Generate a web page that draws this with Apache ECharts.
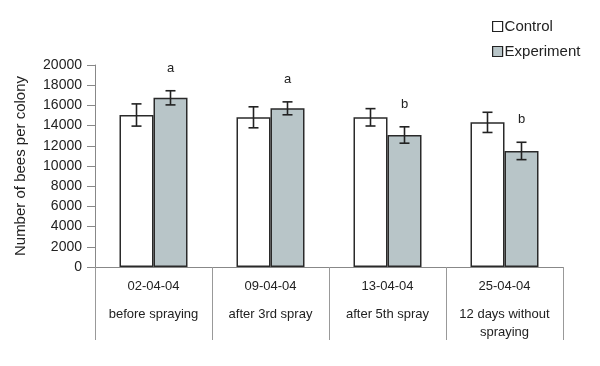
<!DOCTYPE html>
<html><head><meta charset="utf-8">
<script src="https://cdn.jsdelivr.net/npm/echarts@6/dist/echarts.min.js"></script>
<style>html,body{margin:0;padding:0;background:#fff}#c{width:600px;height:366px}</style>
</head><body><div id="c"></div>
<script>
var dates = ['02-04-04', '09-04-04', '13-04-04', '25-04-04'];
var phases = ['before spraying', 'after 3rd spray', 'after 5th spray', '12 days without\nspraying'];
var controlMean = [15050, 14820, 14820, 14320];
var controlErr = [1100, 1040, 860, 1000];
var experimentMean = [16750, 15710, 13070, 11490];
var experimentErr = [700, 640, 810, 860];
var sigLetters = ['a', 'a', 'b', 'b'];
var yTicks = [0, 2000, 4000, 6000, 8000, 10000, 12000, 14000, 16000, 18000, 20000];

var cats = dates.map(function (d, i) {
  var lines = phases[i].split('\n').map(function (l) { return '{s|' + l + '}'; });
  return '{d|' + d + '}\n' + lines.join('\n');
});

var FONT = 'Liberation Sans, Arial, sans-serif';
var chart = echarts.init(document.getElementById('c'), null, {renderer: 'canvas'});

function errSeries(name, means, errs, offsetSign, withLetters) {
  return {
    type: 'custom', name: name + ' err', silent: true, z: 5,
    data: means.map(function (m, i) { return [i, m - errs[i], m + errs[i]]; }),
    renderItem: function (params, api) {
      var bw = 34;
      var lo = api.coord([api.value(0), api.value(1)]);
      var hi = api.coord([api.value(0), api.value(2)]);
      var x = lo[0] + offsetSign * bw / 2;
      var cap = 5;
      var style = {stroke: '#222', lineWidth: 1.6};
      var children = [
        {type: 'line', shape: {x1: x, y1: lo[1], x2: x, y2: hi[1]}, style: style},
        {type: 'line', shape: {x1: x - cap, y1: lo[1], x2: x + cap, y2: lo[1]}, style: style},
        {type: 'line', shape: {x1: x - cap, y1: hi[1], x2: x + cap, y2: hi[1]}, style: style}
      ];
      if (withLetters) {
        children.push({type: 'text', x: x, y: hi[1] - 16,
          style: {text: sigLetters[params.dataIndex], fill: '#222', font: '13px ' + FONT,
                  align: 'center', verticalAlign: 'bottom'}});
      }
      return {type: 'group', children: children};
    }
  };
}

chart.setOption({
  animation: false,
  backgroundColor: '#fff',
  grid: {left: 95, right: 37, top: 65, bottom: 99},
  legend: {
    orient: 'vertical', left: 487, top: 14, itemWidth: 10, itemHeight: 10, itemGap: 10,
    textStyle: {fontFamily: FONT, fontSize: 15, color: '#222', padding: [0, 0, 0, -3]},
    data: [
      {name: 'Control', icon: 'rect', itemStyle: {color: '#fff', borderColor: '#222', borderWidth: 1.2}},
      {name: 'Experiment', icon: 'rect', itemStyle: {color: '#b8c5c8', borderColor: '#222', borderWidth: 1.2}}
    ]
  },
  xAxis: {
    type: 'category', data: cats,
    axisLine: {lineStyle: {color: '#888', width: 1}},
    axisTick: {show: true, length: 73, lineStyle: {color: '#999'}},
    axisLabel: {
      margin: 0, interval: 0,
      rich: {
        d: {fontFamily: FONT, fontSize: 13, color: '#222', lineHeight: 38},
        s: {fontFamily: FONT, fontSize: 13, color: '#222', lineHeight: 18}
      }
    }
  },
  yAxis: {
    type: 'value', min: 0, max: 20000, interval: 2000,
    name: 'Number of bees per colony', nameLocation: 'middle', nameGap: 67, nameRotate: 90,
    nameTextStyle: {fontFamily: FONT, fontSize: 15, color: '#222'},
    axisLine: {show: true, lineStyle: {color: '#888'}},
    axisTick: {show: true, length: 8, lineStyle: {color: '#888'}},
    splitLine: {show: false},
    axisLabel: {
      fontFamily: FONT, fontSize: 14, color: '#222', margin: 13,
      formatter: function (v) { return yTicks.indexOf(v) >= 0 ? String(v) : ''; }
    }
  },
  series: [
    {name: 'Control', type: 'bar', data: controlMean, barWidth: 34, barGap: '0%',
     itemStyle: {color: '#fff', borderColor: '#2a2a2a', borderWidth: 1.5}},
    {name: 'Experiment', type: 'bar', data: experimentMean, barWidth: 34, barGap: '0%',
     itemStyle: {color: '#b8c5c8', borderColor: '#2a2a2a', borderWidth: 1.5}},
    errSeries('Control', controlMean, controlErr, -1, false),
    errSeries('Experiment', experimentMean, experimentErr, 1, true)
  ]
});
</script></body></html>
